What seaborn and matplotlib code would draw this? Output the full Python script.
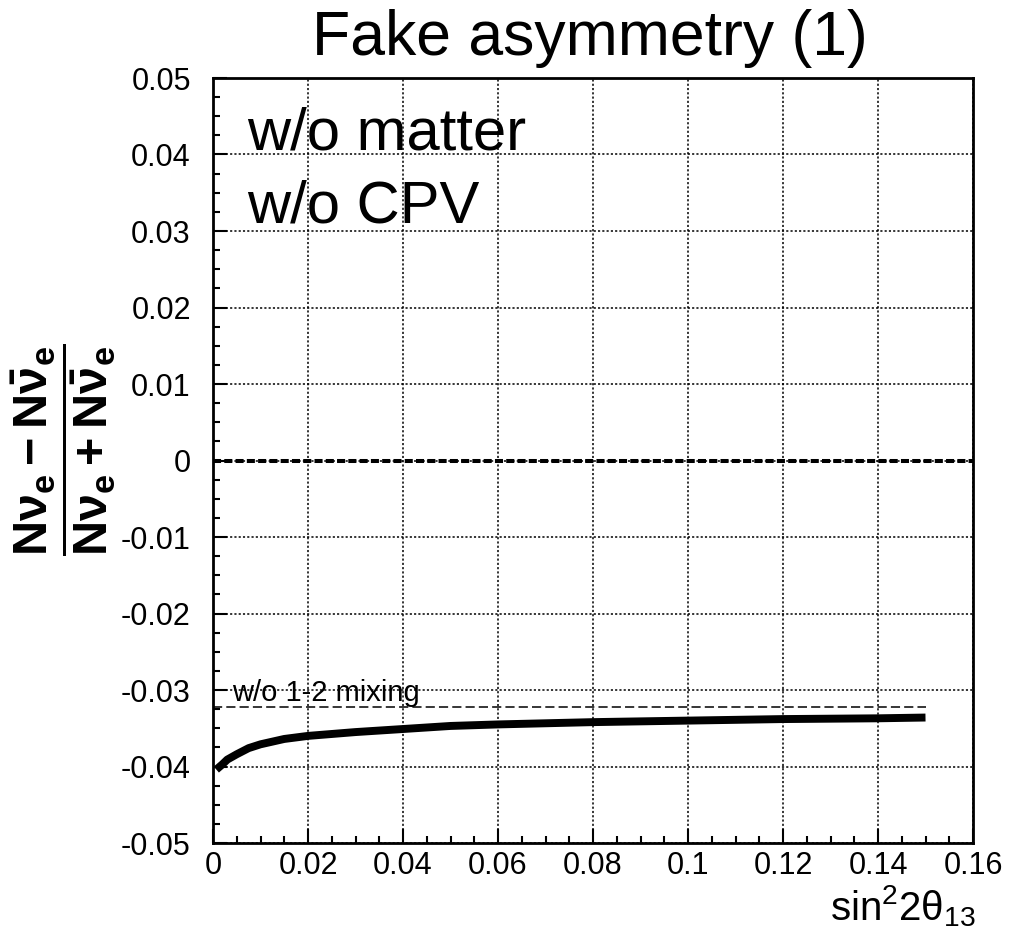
import numpy as np
import pandas as pd
import matplotlib
matplotlib.use("Agg")
import matplotlib.pyplot as plt
import seaborn as sns
from matplotlib.ticker import MultipleLocator, FixedLocator

# ---- data ----
sin2_2theta13 = [0.0007, 0.002, 0.003, 0.005, 0.0075, 0.01, 0.015, 0.02, 0.03,
                 0.04, 0.05, 0.06, 0.08, 0.10, 0.12, 0.14, 0.15]
asym_full = [-0.0404, -0.0397, -0.0391, -0.0384, -0.0376, -0.0371, -0.0364, -0.0360,
             -0.0355, -0.0351, -0.0347, -0.0345, -0.0342, -0.0340, -0.0338, -0.0337, -0.0336]
no12_x = [0.0, 0.15]
no12_y = [-0.0322, -0.0322]
zero_level = 0.0

x_ticks = [0, 0.02, 0.04, 0.06, 0.08, 0.1, 0.12, 0.14, 0.16]
x_ticklabels = ["0", "0.02", "0.04", "0.06", "0.08", "0.1", "0.12", "0.14", "0.16"]
y_ticks = [-0.05, -0.04, -0.03, -0.02, -0.01, 0, 0.01, 0.02, 0.03, 0.04, 0.05]
y_ticklabels = ["-0.05", "-0.04", "-0.03", "-0.02", "-0.01", "0",
                "0.01", "0.02", "0.03", "0.04", "0.05"]

sns.set_theme(style="white")
plt.rcParams['font.family'] = ['Liberation Sans', 'DejaVu Sans']
plt.rcParams['text.color'] = 'black'
plt.rcParams['axes.labelcolor'] = 'black'
plt.rcParams['xtick.color'] = 'black'
plt.rcParams['ytick.color'] = 'black'
plt.rcParams['mathtext.fontset'] = 'custom'
plt.rcParams['mathtext.rm'] = 'Liberation Sans'
plt.rcParams['mathtext.it'] = 'Liberation Sans'
plt.rcParams['mathtext.bf'] = 'Liberation Sans:bold'

W, H = 1011, 947
fig = plt.figure(figsize=(W / 100, H / 100), dpi=100)
ax_l, ax_r, ax_t, ax_b = 213, 973, 78, 843
ax = fig.add_axes([ax_l / W, 1 - ax_b / H, (ax_r - ax_l) / W, (ax_b - ax_t) / H])

df_main = pd.DataFrame({"x": sin2_2theta13, "y": asym_full})
df_no12 = pd.DataFrame({"x": no12_x, "y": no12_y})

ax.axhline(zero_level, color="black", lw=2.9, ls=(0, (2.0, 0.8)), zorder=3)
sns.lineplot(data=df_no12, x="x", y="y", ax=ax, color="black", lw=1.1,
             linestyle=(0, (6, 2.7)), zorder=3)
sns.lineplot(data=df_main, x="x", y="y", ax=ax, color="black", lw=5.7, zorder=4,
             solid_capstyle="butt")

ax.set_xlim(0, 0.16)
ax.set_ylim(-0.05, 0.05)
ax.xaxis.set_major_locator(FixedLocator(x_ticks))
ax.set_xticklabels(x_ticklabels)
ax.yaxis.set_major_locator(FixedLocator(y_ticks))
ax.set_yticklabels(y_ticklabels)
ax.xaxis.set_minor_locator(MultipleLocator(0.005))
ax.yaxis.set_minor_locator(MultipleLocator(0.0025))

ax.grid(True, which="major", color="black", ls=(0, (1.4, 1.4)), lw=1.1)
ax.tick_params(axis="both", which="major", direction="in", length=10, width=1.5,
               labelsize=22, colors="black")
ax.tick_params(axis="both", which="minor", direction="in", length=5, width=1.5)
ax.tick_params(axis="y", which="major", pad=16)
ax.tick_params(axis="x", which="major", pad=6)
ax.tick_params(top=False, right=False, which="both")
ax.tick_params(axis="x", which="both", bottom=True)
ax.tick_params(axis="y", which="both", left=True)
for s in ax.spines.values():
    s.set_color("black")
    s.set_linewidth(2)

ax.set_xlabel("")
ax.set_ylabel("")
fig.text(976 / W, 1 - 920 / H, r"sin$^2$2$\theta_{13}$", fontsize=29,
         ha="right", va="baseline")
fig.text(64 / W, 1 - 450 / H,
         r"$\dfrac{\mathbf{N\nu_e - N\bar{\nu}_e}}{\mathbf{N\nu_e + N\bar{\nu}_e}}$",
         fontsize=35, rotation=90, ha="center", va="center")
fig.text(312 / W, 1 - 55 / H, "Fake asymmetry (1)", fontsize=45,
         ha="left", va="baseline")

ax.text(0.0072, 0.0406, "w/o matter", fontsize=43, ha="left", va="baseline")
ax.text(0.0072, 0.0311, "w/o CPV", fontsize=43, ha="left", va="baseline")
ax.text(0.004, -0.03146, "w/o 1-2 mixing", fontsize=21, ha="left", va="baseline")

fig.savefig("out.png", dpi=100, facecolor="white")
